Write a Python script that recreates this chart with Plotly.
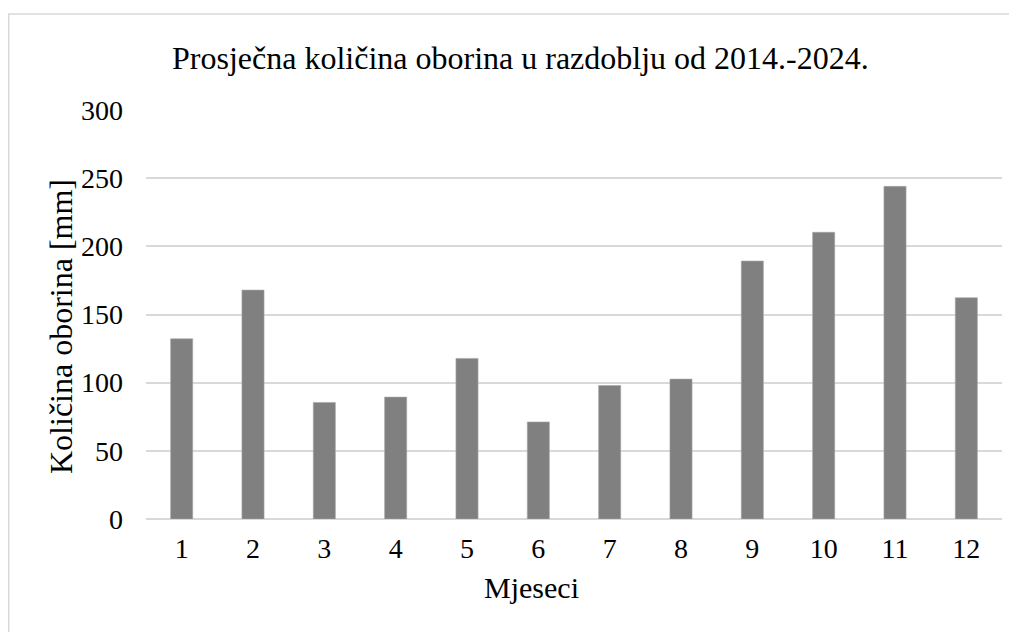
import plotly.graph_objects as go

months = ["1", "2", "3", "4", "5", "6", "7", "8", "9", "10", "11", "12"]
precip = [132.2, 167.9, 85.5, 89.4, 117.8, 71.2, 97.9, 102.6, 189.2, 210.3, 244.0, 162.3]
y_ticks = [0, 50, 100, 150, 200, 250, 300]

title_text = "Prosječna količina oborina u razdoblju od 2014.-2024."
x_title = "Mjeseci"
y_title = "Količina oborina [mm]"

FONT = "Liberation Serif, Times New Roman, serif"

# page body has an 8px margin; figure sized to fit the window
OFF = 8
FW, FH = 1009, 624
ml, mt = 138, 102
pw, ph = 856, 409
mr = FW - ml - pw
mb = FH - mt - ph


def px_x(sx):
    return (sx - OFF - ml) / pw


def px_y(sy):
    return (FH - mb - (sy - OFF)) / ph


fig = go.Figure()
fig.add_trace(go.Bar(
    x=months, y=precip,
    marker=dict(color="#808080", line=dict(color="#a6a6a6", width=0.6)),
    width=0.31,
))

fig.update_layout(
    width=FW, height=FH,
    margin=dict(l=ml, r=mr, t=mt, b=mb, pad=0),
    paper_bgcolor="white", plot_bgcolor="white",
    font=dict(family=FONT, color="black", size=28),
    showlegend=False,
    xaxis=dict(
        type="category", showgrid=False, zeroline=False,
        showline=False, ticks="", tickfont=dict(size=28),
        ticklabelstandoff=10,
        fixedrange=True,
    ),
    yaxis=dict(
        range=[0, 300], tickvals=y_ticks, ticktext=[str(v) for v in y_ticks],
        showgrid=True, gridcolor="#d9d9d9", gridwidth=1.5,
        zeroline=True, zerolinecolor="#d9d9d9", zerolinewidth=1.5,
        showline=False, ticks="", ticklabelstandoff=22,
        tickfont=dict(size=28),
        fixedrange=True,
    ),
    annotations=[
        dict(text=title_text, xref="paper", yref="paper",
             x=px_x(520), y=px_y(58), xanchor="center", yanchor="middle",
             showarrow=False, font=dict(size=32, family=FONT)),
        dict(text=x_title, xref="paper", yref="paper",
             x=px_x(531), y=px_y(587), xanchor="center", yanchor="middle",
             showarrow=False, font=dict(size=30, family=FONT)),
        dict(text=y_title, xref="paper", yref="paper", textangle=-90,
             x=px_x(61), y=px_y(327), xanchor="center", yanchor="middle",
             showarrow=False, font=dict(size=32, family=FONT)),
    ],
    shapes=[dict(
        type="rect", xref="paper", yref="paper",
        x0=(0.75 - ml) / pw, x1=(FW + 20 - ml) / pw,
        y0=(FH - mb - (FH + 20)) / ph, y1=(FH - mb - 6) / ph,
        line=dict(color="#d9d9d9", width=1.5), fillcolor="rgba(0,0,0,0)",
        layer="below",
    )],
)

fig.write_html("out.html")
